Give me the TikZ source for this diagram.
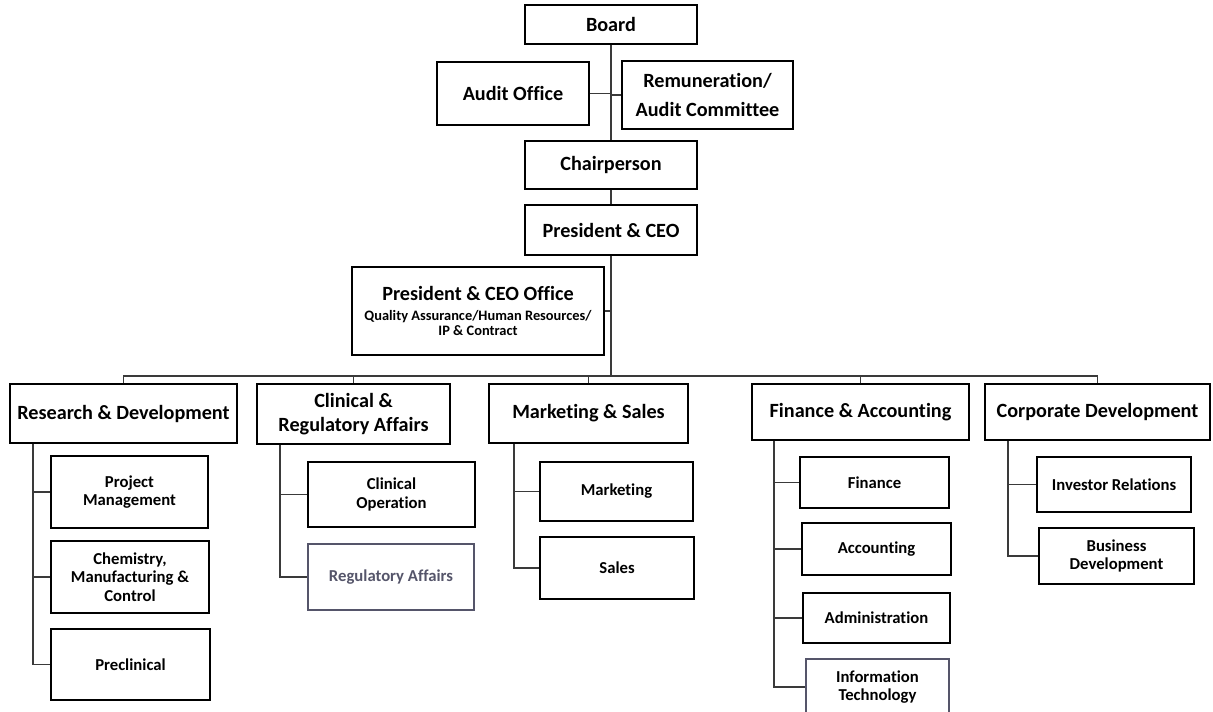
\documentclass[tikz,border=0pt]{standalone}
\usepackage{fontspec}
\setmainfont{Carlito}[Ligatures=NoCommon]
\usetikzlibrary{positioning}
\definecolor{linegray}{HTML}{3A3A3A}
\definecolor{reggray}{HTML}{55556A}
\newcommand{\smalltxt}{\fontsize{8.2}{9}\selectfont}
\tikzset{head/.style={draw=black, line width=0.8pt, align=center, inner sep=2pt,
                      font=\fontsize{11.5}{14}\selectfont\bfseries},
         sub/.style={draw=black, line width=0.8pt, align=center, inner sep=2pt,
                     font=\fontsize{9.5}{10.5}\selectfont\bfseries},
         sz/.style 2 args={minimum width=#1*0.02cm, minimum height=#2*0.02cm},
         link/.style={draw=linegray, line width=0.9pt},
        }

\begin{document}
\begin{tikzpicture}[x=0.02cm, y=-0.02cm]
        \useasboundingbox (0,0) rectangle (1213,711);

        \node[head, sz={172}{39}](board)at(611,24.5){Board};
        \node[head, sz={152}{63}](audit)at(513,93.5){Audit Office};
        \node[head, sz={171}{68}](remun)at(707.5,95){Remuneration/\\[3pt]Audit Committee};
        \node[head, sz={172}{48}](chair)at(611,165){Chairperson};
        \node[head, sz={172}{50}](pres)at(611,230){President \& CEO};
        \node[head, sz={252}{88}](office)at(478,311){President \& CEO Office\\[-2.7pt]\smalltxt Quality Assurance/Human Resources/\\[-5pt]\smalltxt IP \& Contract};

        \node[head, sz={227}{59}](rd)at(123.5,413.5){Research \& Development};
        \node[head, sz={193}{60}](cra)at(353.5,414){Clinical \&\\Regulatory Affairs};
        \node[head, sz={199}{59}](ms)at(588.5,413.5){Marketing \& Sales};
        \node[head, sz={217}{56}](fa)at(860.5,412){Finance \& Accounting};
        \node[head, sz={225}{56}](cd)at(1097.5,412){Corporate Development};

        \node[sub, sz={157}{72}](pm)at(129.5,492){Project\\Management};
        \node[sub, sz={158}{72}](cmc)at(130,577){Chemistry,\\Manufacturing \&\\Control};
        \node[sub, sz={159}{71}](pre)at(130.5,664.5){Preclinical};
        \node[sub, sz={167}{65}](cop)at(391.5,494.5){Clinical\\Operation};
        \node[sub, sz={166}{66}, draw=reggray, text=reggray](reg)at(391,577){Regulatory Affairs};
        \node[sub, sz={153}{59}](mkt)at(616.5,491.5){Marketing};
        \node[sub, sz={154}{62}](sal)at(617,568){Sales};
        \node[sub, sz={149}{51}](fin)at(874.5,482.5){Finance};
        \node[sub, sz={149}{52}](acc)at(876.5,549){Accounting};
        \node[sub, sz={147}{50}](adm)at(876.5,618){Administration};
        \node[sub, sz={143}{56}, draw=reggray](it)at(877.5,687){Information\\Technology};
        \node[sub, sz={154}{55}](ir)at(1114,484.5){Investor Relations};
        \node[sub, sz={155}{56}](bd)at(1116.5,556){Business\\Development};

        \coordinate(bus)at(611,376);
        \coordinate(rdb)at(33,0);
        \coordinate(crab)at(280,0);
        \coordinate(msb)at(514,0);
        \coordinate(fab)at(774,0);
        \coordinate(cdb)at(1008,0);

        \draw[link](board)--(chair);
        \draw[link](audit)--(audit -| board);
        \draw[link](remun)--(remun -| board);
        \draw[link](chair)--(pres);
        \draw[link](pres)--(bus);
        \draw[link](office)--(office -| pres);

        \draw[link](rd)|-(bus)-|(cd);
        \draw[link](cra)--(cra |- bus);
        \draw[link](ms)--(ms |- bus);
        \draw[link](fa)--(fa |- bus);

        \draw[link](rdb |- rd.south)|-(pre);
        \draw[link](rdb |- pm)--(pm);
        \draw[link](rdb |- cmc)--(cmc);

        \draw[link](crab |- cra.south)|-(reg);
        \draw[link](crab |- cop)--(cop);

        \draw[link](msb |- ms.south)|-(sal);
        \draw[link](msb |- mkt)--(mkt);

        \draw[link](fab |- fa.south)|-(it);
        \draw[link](fab |- fin)--(fin);
        \draw[link](fab |- acc)--(acc);
        \draw[link](fab |- adm)--(adm);

        \draw[link](cdb |- cd.south)|-(bd);
        \draw[link](cdb |- ir)--(ir);
\end{tikzpicture}
\end{document}
